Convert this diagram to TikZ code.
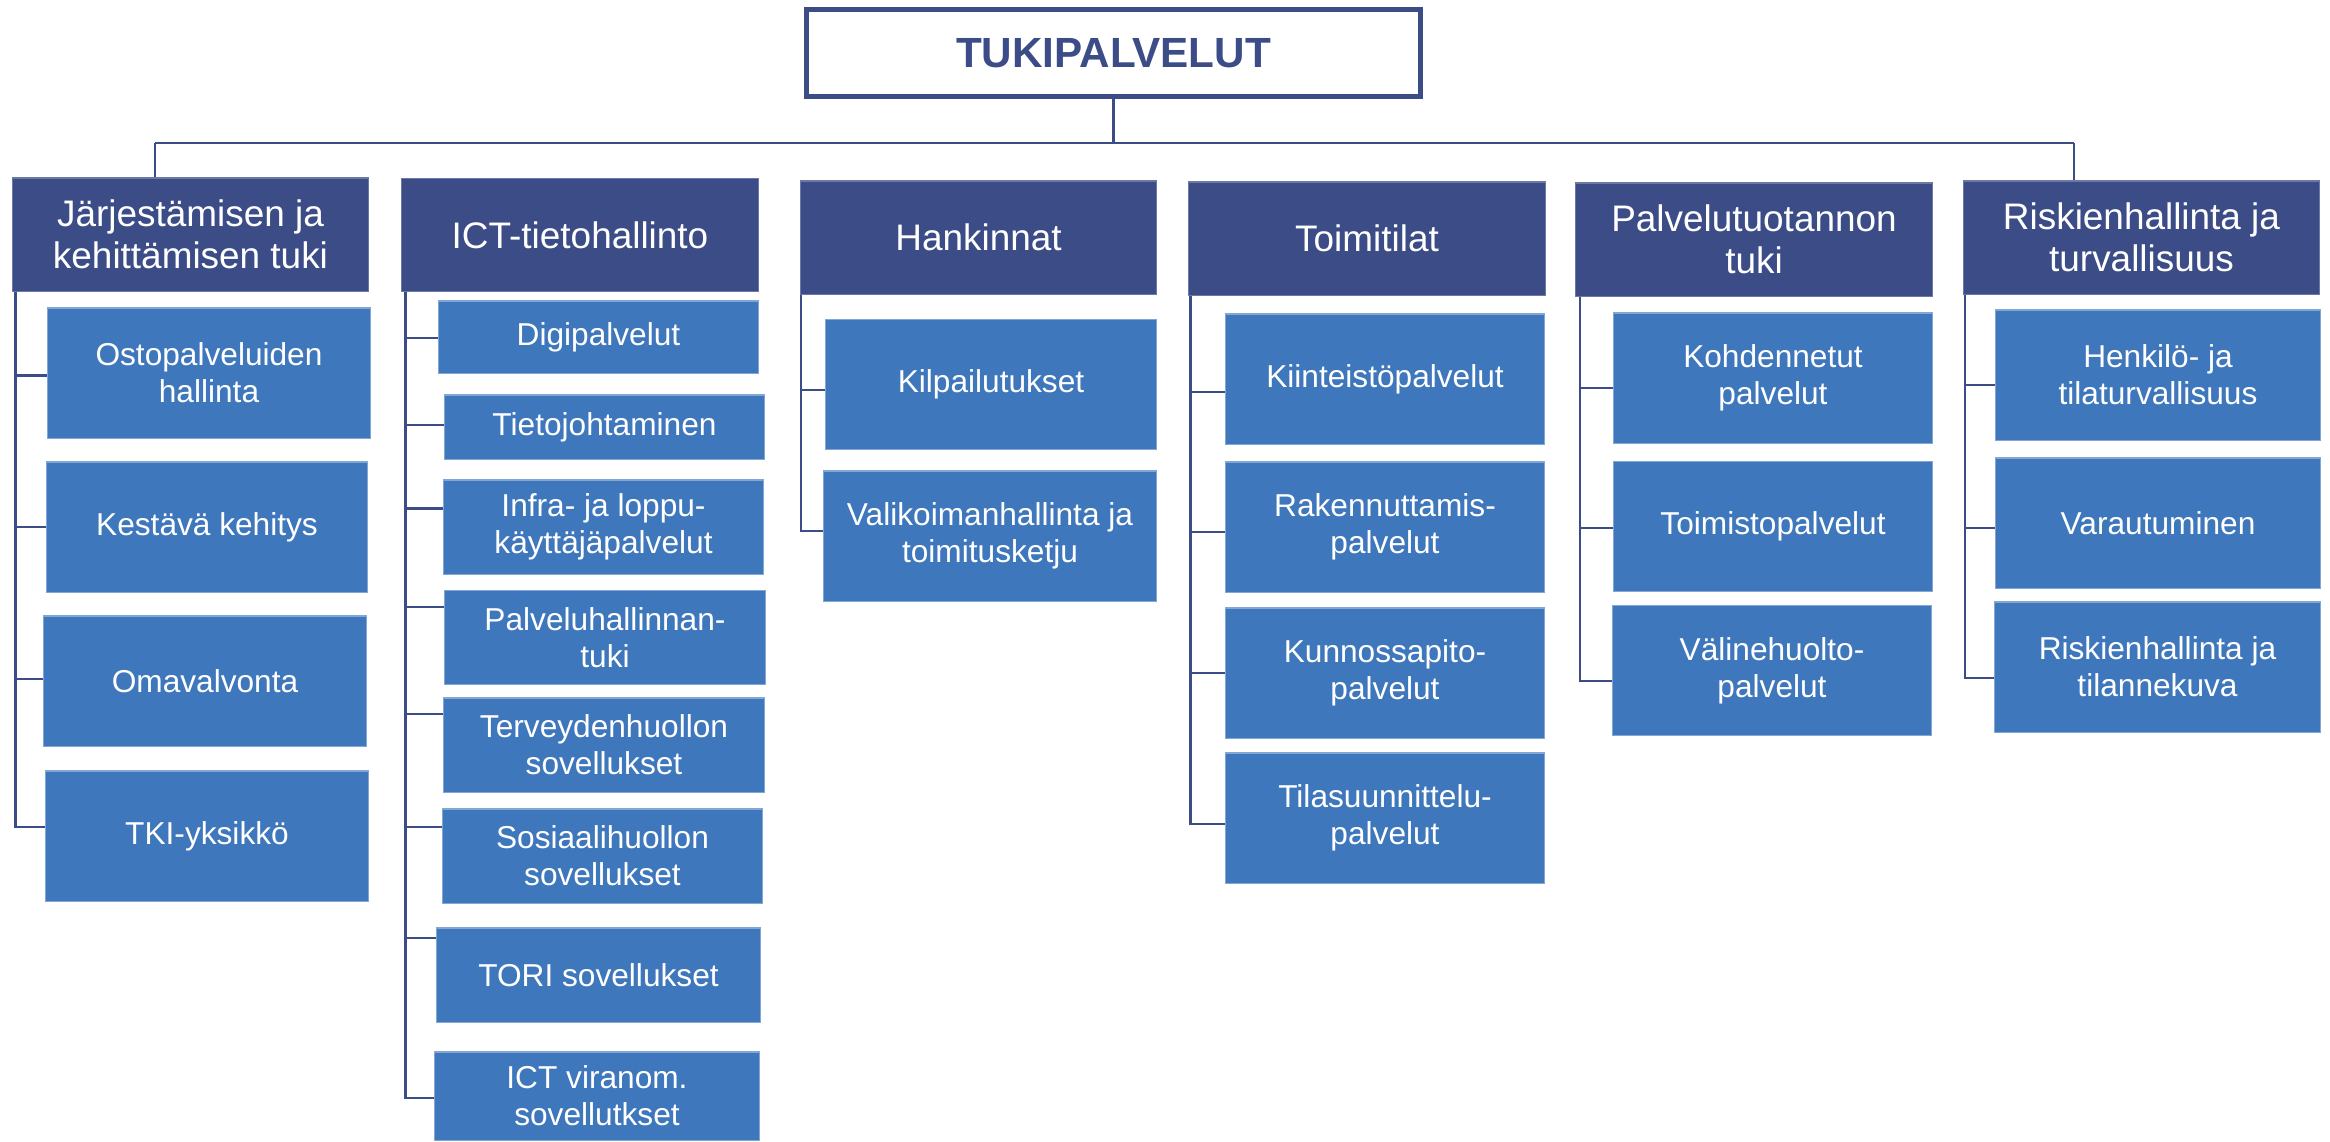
\documentclass[tikz,border=0pt]{standalone}
\usepackage{fontspec}
\setmainfont{Liberation Sans}
\usepackage{tikz}
\usetikzlibrary{calc}
\definecolor{hdrblue}{RGB}{59,76,135}
\definecolor{subblue}{RGB}{63,119,189}

\begin{document}
\begin{tikzpicture}[x=0.01cm, y=-0.01cm,
    title/.style={draw=hdrblue, line width=1.4pt, fill=white, text=hdrblue,
        font=\fontsize{12}{14}\selectfont\bfseries,
        minimum width=6.14cm, minimum height=0.87cm},
    group/.style={fill=hdrblue, draw=hdrblue!75!white, line width=0.3pt, text=white,
        align=center, inner sep=0pt, font=\fontsize{10.5}{12}\selectfont,
        minimum width=3.56cm, minimum height=1.13cm},
    unit/.style={fill=subblue, draw=subblue!65!white, line width=0.3pt, text=white,
        align=center, inner sep=0pt, font=\fontsize{9}{10.6}\selectfont,
        minimum width=3.2cm, minimum height=1.3cm},
    link/.style={draw=hdrblue, line width=0.65pt},
    branch/.style={link, to path={|- ($(\tikztotarget.west)+(0,#1)$)}},
    branch/.default=0
]
    \clip (0,0) rectangle (2330,1141);

    \node[title] (top) at (1113.5,53) {TUKIPALVELUT};

    \node[group] (hdr1) at (190.5,234.5) {Järjestämisen ja\\kehittämisen tuki};
    \node[group] (hdr2) at (580,235) {ICT-tietohallinto};
    \node[group] (hdr3) at (978.5,237.5) {Hankinnat};
    \node[group] (hdr4) at (1367,238.5) {Toimitilat};
    \node[group] (hdr5) at (1754,239.5) {Palvelutuotannon\\tuki};
    \node[group] (hdr6) at (2141.5,237.5) {Riskienhallinta ja\\turvallisuus};

    % Järjestämisen ja kehittämisen tuki
    \node[unit, minimum width=3.22cm] (ostop) at (209,373) {Ostopalveluiden\\hallinta};
    \node[unit, minimum width=3.2cm] (kestava) at (207,527) {Kestävä kehitys};
    \node[unit, minimum width=3.22cm] (omaval) at (205,681) {Omavalvonta};
    \node[unit, minimum width=3.22cm] (tki) at (207,836) {TKI-yksikkö};

    % ICT-tietohallinto
    \node[unit, minimum height=0.72cm] (digi) at (598.5,337) {Digipalvelut};
    \node[unit, minimum height=0.64cm] (tieto) at (604.5,427) {Tietojohtaminen};
    \node[unit, minimum height=0.94cm] (infra) at (603.5,527) {Infra- ja loppu-\\käyttäjäpalvelut};
    \node[unit, minimum height=0.94cm] (palvh) at (605,637.5) {Palveluhallinnan-\\tuki};
    \node[unit, minimum height=0.94cm] (terv) at (604,745) {Terveydenhuollon\\sovellukset};
    \node[unit, minimum height=0.94cm] (sosi) at (602.5,856) {Sosiaalihuollon\\sovellukset};
    \node[unit, minimum height=0.94cm, minimum width=3.23cm] (tori) at (598.5,975) {TORI sovellukset};
    \node[unit, minimum height=0.88cm, minimum width=3.24cm] (ictvir) at (597,1096) {ICT viranom.\\sovellutkset};

    % Hankinnat
    \node[unit, minimum width=3.31cm] (kilp) at (991,384.5) {Kilpailutukset};
    \node[unit, minimum width=3.32cm] (valik) at (990,536) {Valikoimanhallinta ja\\toimitusketju};

    % Toimitilat
    \node[unit, minimum width=3.18cm] (kiint) at (1385,379) {Kiinteistöpalvelut};
    \node[unit, minimum width=3.18cm] (raken) at (1385,527) {Rakennuttamis-\\palvelut};
    \node[unit, minimum width=3.18cm] (kunno) at (1385,673) {Kunnossapito-\\palvelut};
    \node[unit, minimum width=3.18cm] (tilas) at (1385,818) {Tilasuunnittelu-\\palvelut};

    % Palvelutuotannon tuki
    \node[unit, minimum width=3.18cm] (kohd) at (1773,378) {Kohdennetut\\palvelut};
    \node[unit, minimum width=3.18cm] (toimis) at (1773,526.5) {Toimistopalvelut};
    \node[unit, minimum width=3.19cm] (valine) at (1772,670.5) {Välinehuolto-\\palvelut};

    % Riskienhallinta ja turvallisuus
    \node[unit, minimum width=3.24cm] (henk) at (2158,375) {Henkilö- ja\\tilaturvallisuus};
    \node[unit, minimum width=3.24cm] (varau) at (2158,523) {Varautuminen};
    \node[unit, minimum width=3.25cm] (riskit) at (2157.5,667) {Riskienhallinta ja\\tilannekuva};

    \coordinate (busL) at (155,143);
    \coordinate (busR) at (2074,143);
    \coordinate (col1) at ([xshift=0.035cm]hdr1.south west);
    \coordinate (col2) at ([xshift=0.04cm]hdr2.south west);
    \coordinate (col3) at ([xshift=0.01cm]hdr3.south west);
    \coordinate (col4) at ([xshift=0.02cm]hdr4.south west);
    \coordinate (col5) at ([xshift=0.045cm]hdr5.south west);
    \coordinate (col6) at ([xshift=0.02cm]hdr6.south west);

    \path
        (top)
            edge [link] (top |- busL)
        (busL)
            edge [link] (busR)
            edge [link] (busL |- hdr1.north)
        (busR)
            edge [link] (busR |- hdr6.north)
        (col1)
            edge [branch=2.5] (ostop)
            edge [branch] (kestava)
            edge [branch=-2] (omaval)
            edge [branch=-9] (tki)
        (col2)
            edge [branch=1] (digi)
            edge [branch=-2] (tieto)
            edge [branch=-18.5] (infra)
            edge [branch=-30.5] (palvh)
            edge [branch=-31] (terv)
            edge [branch=-29] (sosi)
            edge [branch=-37] (tori)
            edge [branch=2] (ictvir)
        (col3)
            edge [branch=5.5] (kilp)
            edge [branch=-5] (valik)
        (col4)
            edge [branch=13] (kiint)
            edge [branch=5] (raken)
            edge [branch] (kunno)
            edge [branch=5.7] (tilas)
        (col5)
            edge [branch=9.7] (kohd)
            edge [branch=1.5] (toimis)
            edge [branch=10.5] (valine)
        (col6)
            edge [branch=10] (henk)
            edge [branch=5] (varau)
            edge [branch=11] (riskit)
    ;
\end{tikzpicture}
\end{document}
